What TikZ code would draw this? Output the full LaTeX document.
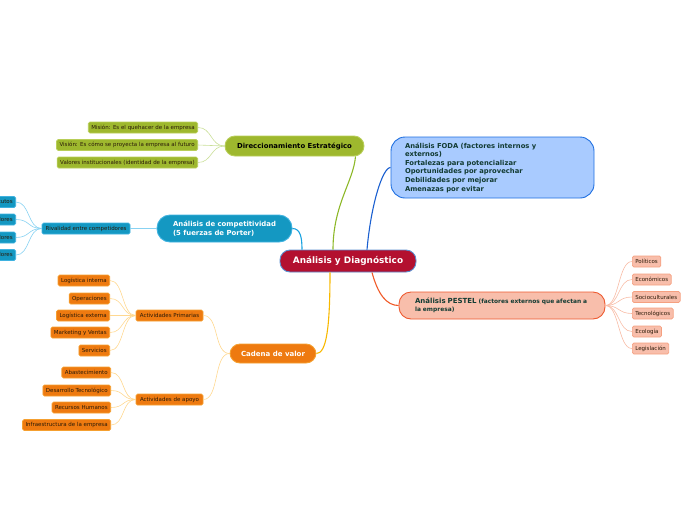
\documentclass[tikz,border=0pt]{standalone}
\usepackage{fontspec}
\setmainfont{DejaVu Sans}
\definecolor{cRed}{HTML}{B3102F}
\definecolor{cRedB}{HTML}{5A8FD0}
\definecolor{cGreen}{HTML}{9EB82E}
\definecolor{cGreenB}{HTML}{B8CE58}
\definecolor{cGreenL}{HTML}{8DB828}
\definecolor{cGreenLL}{HTML}{CADF98}
\definecolor{cTeal}{HTML}{1498C2}
\definecolor{cTealB}{HTML}{3FB2E0}
\definecolor{cTealL}{HTML}{18A2E0}
\definecolor{cTealLL}{HTML}{88D2F2}
\definecolor{cFoda}{HTML}{A9CBFF}
\definecolor{cFodaB}{HTML}{1F6FE0}
\definecolor{cFodaL}{HTML}{1A5FD0}
\definecolor{cFodaT}{HTML}{123B33}
\definecolor{cPest}{HTML}{F8BEAB}
\definecolor{cPestB}{HTML}{EE5A30}
\definecolor{cPestL}{HTML}{F05A28}
\definecolor{cPestLB}{HTML}{F5A080}
\definecolor{cPestLL}{HTML}{F8BCA6}
\definecolor{cOr}{HTML}{EE7A10}
\definecolor{cOrB}{HTML}{F5A030}
\definecolor{cOrL}{HTML}{F8B800}
\definecolor{cOrLL}{HTML}{FFD890}
\definecolor{cDark}{HTML}{2A1A08}
\begin{document}
\begin{tikzpicture}[x=1pt,y=-1pt,
  mainbox/.style={draw, line width=0.9pt, rounded corners=10pt, inner sep=0pt, align=center},
  leafbox/.style={draw, line width=0.7pt, rounded corners=1.5pt, inner xsep=3pt, inner ysep=0pt,
     minimum height=11pt, font=\fontsize{5.5}{6.5}\selectfont},
  gleaf/.style={leafbox, fill=cGreen, draw=cGreenB, text=cDark, anchor=east},
  tleaf/.style={leafbox, fill=cTeal, draw=cTealB, text=cDark},
  oleaf/.style={leafbox, fill=cOr, draw=cOrB, text=cDark},
  pleaf/.style={leafbox, fill=cPest, draw=cPestLB, text=cDark, anchor=west},
  mainline/.style={line width=1.1pt},
  leafline/.style={line width=0.6pt}
]
\useasboundingbox (0,0) rectangle (696,520);
\clip (0,0) rectangle (696,520);

% central
\node[mainbox, fill=cRed, draw=cRedB, text=white, minimum width=136pt, minimum height=22pt,
  font=\fontsize{8.9}{10}\selectfont\bfseries] (c) at (348,261) {Análisis y Diagnóstico};

% Direccionamiento
\node[mainbox, fill=cGreen, draw=cGreenB, text=black, minimum width=139pt, minimum height=20pt,
  font=\fontsize{6.9}{8}\selectfont\bfseries] (d) at (294.5,146) {Direccionamiento Estratégico};
\node[gleaf] (d1) at (198,127.5) {Misión: Es el quehacer de la empresa};
\node[gleaf] (d2) at (198,145) {Visión: Es cómo se proyecta la empresa al futuro};
\node[gleaf] (d3) at (198,162.5) {Valores institucionales (identidad de la empresa)};

% Competitividad
\node[mainbox, fill=cTeal, draw=cTealB, text=white, minimum width=135pt, minimum height=27pt,
  rounded corners=13pt, align=left,
  font=\fontsize{6.9}{8.4}\selectfont\bfseries] (k) at (224.5,228.5) {Análisis de competitividad\\(5 fuerzas de Porter)};
\node[tleaf, minimum width=88pt] (r) at (86,228.5) {Rivalidad entre competidores};
\node[tleaf, anchor=east] (r1) at (16,202) {Amenaza de productos sustitutos};
\node[tleaf, anchor=east] (r2) at (16,219.5) {Poder de negociación de los proveedores};
\node[tleaf, anchor=east] (r3) at (16,237.5) {Poder de negociación de los compradores};
\node[tleaf, anchor=east] (r4) at (16,255) {Amenaza de nuevos competidores};

% FODA
\node[draw=cFodaB, fill=cFoda, line width=0.9pt, rounded corners=14pt, minimum width=203pt,
  minimum height=61pt, inner xsep=14pt, inner ysep=0pt, text width=175pt, align=left, text=cFodaT,
  font=\fontsize{6.8}{8.6}\selectfont\bfseries] (f) at (492.5,167.5)
  {Análisis FODA (factores internos y\\externos)\\Fortalezas para potencializar\\Oportunidades por aprovechar\\Debilidades por mejorar\\Amenazas por evitar};

% PESTEL
\node[draw=cPestB, fill=cPest, line width=0.9pt, rounded corners=12pt, minimum width=206pt,
  minimum height=27pt, inner xsep=16pt, inner ysep=0pt, text width=174pt, align=left, text=cFodaT,
  font=\fontsize{5.9}{8}\selectfont\bfseries] (p) at (502,305.5)
  {{\fontsize{7}{8}\selectfont Análisis PESTEL} (factores externos que afectan a\\la empresa)};
\node[pleaf] (p1) at (632,261.5) {Políticos};
\node[pleaf] (p2) at (632,279.5) {Económicos};
\node[pleaf] (p3) at (632,297) {Socioculturales};
\node[pleaf] (p4) at (632,313.5) {Tecnológicos};
\node[pleaf] (p5) at (632,331.5) {Ecología};
\node[pleaf] (p6) at (632,348.5) {Legislación};

% Cadena de valor
\node[mainbox, fill=cOr, draw=cOrB, text=white, minimum width=86pt, minimum height=19pt,
  font=\fontsize{7}{8}\selectfont\bfseries] (v) at (273,353.5) {Cadena de valor};
\node[oleaf, minimum width=67pt] (ap) at (169.5,315.5) {Actividades Primarias};
\node[oleaf, minimum width=67pt] (aa) at (169.5,399.5) {Actividades de apoyo};
\node[oleaf, anchor=east] (ap1) at (110,280.5) {Logística interna};
\node[oleaf, anchor=east] (ap2) at (110,298.5) {Operaciones};
\node[oleaf, anchor=east] (ap3) at (110,315.5) {Logística externa};
\node[oleaf, anchor=east] (ap4) at (110,332.5) {Marketing y Ventas};
\node[oleaf, anchor=east] (ap5) at (110,350.5) {Servicios};
\node[oleaf, anchor=east] (aa1) at (111,372.5) {Abastecimiento};
\node[oleaf, anchor=east] (aa2) at (111,390.5) {Desarrollo Tecnológico};
\node[oleaf, anchor=east] (aa3) at (111,407.5) {Recursos Humanos};
\node[oleaf, anchor=east] (aa4) at (111,425) {Infraestructura de la empresa};

% main connectors
\draw[mainline, cGreenL] ([xshift=-15pt]c.north) .. controls +(0,-45) and +(-2,25) .. ([xshift=61pt]d.south);
\draw[mainline, cTealL] ([xshift=-46pt]c.north) .. controls +(0,-12) and +(8,0) .. (k.east);
\draw[mainline, cFodaL] ([xshift=19pt]c.north) .. controls +(4,-45) and +(-8,0) .. (f.west);
\draw[mainline, cPestL] ([xshift=24pt]c.south) .. controls +(6,22) and +(-12,0) .. (p.west);
\draw[mainline, cOrL] ([xshift=-18pt]c.south) .. controls +(0,55) and +(10,0) .. (v.east);

% leaf connectors
\foreach \n in {d1,d2,d3}
  \draw[leafline, cGreenLL] (d.west) .. controls +(-14,0) and +(14,0) .. (\n.east);
\draw[leafline, cTealLL] (k.west) -- (r.east);
\foreach \n in {r1,r2,r3,r4}
  \draw[leafline, cTealLL] (r.west) .. controls +(-14,0) and +(14,0) .. (\n.east);
\foreach \n in {p1,p2,p3,p4,p5,p6}
  \draw[leafline, cPestLL] (p.east) .. controls +(14,0) and +(-14,0) .. (\n.west);
\foreach \n in {ap,aa}
  \draw[leafline, cOrLL] (v.west) .. controls +(-16,0) and +(16,0) .. (\n.east);
\foreach \n in {ap1,ap2,ap3,ap4,ap5}
  \draw[leafline, cOrLL] (ap.west) .. controls +(-14,0) and +(14,0) .. (\n.east);
\foreach \n in {aa1,aa2,aa3,aa4}
  \draw[leafline, cOrLL] (aa.west) .. controls +(-14,0) and +(14,0) .. (\n.east);
\end{tikzpicture}
\end{document}
